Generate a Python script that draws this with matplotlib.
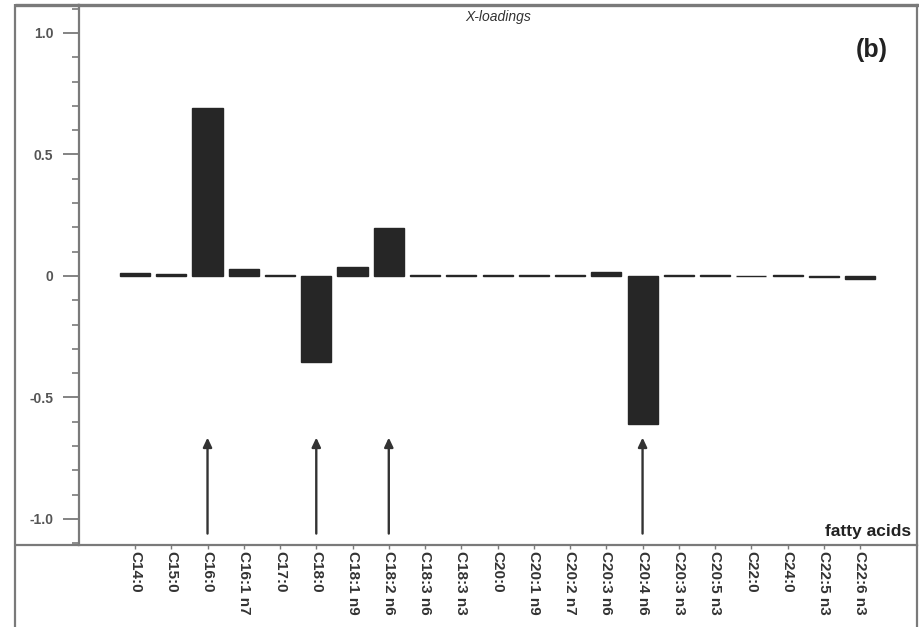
import matplotlib
matplotlib.use("Agg")
import matplotlib.pyplot as plt
from matplotlib.lines import Line2D
from matplotlib.ticker import MultipleLocator, FixedLocator
import numpy as np

plt.rcParams['font.family'] = ['Liberation Sans', 'DejaVu Sans']

# PLS X-loadings per fatty acid
fatty_acids = ["C14:0", "C15:0", "C16:0", "C16:1 n7", "C17:0", "C18:0",
               "C18:1 n9", "C18:2 n6", "C18:3 n6", "C18:3 n3", "C20:0",
               "C20:1 n9", "C20:2 n7", "C20:3 n6", "C20:4 n6", "C20:3 n3",
               "C20:5 n3", "C22:0", "C24:0", "C22:5 n3", "C22:6 n3"]
loadings = [0.012, 0.010, 0.690, 0.028, 0.003, -0.354,
            0.037, 0.198, 0.005, 0.003, 0.003,
            0.003, 0.005, 0.016, -0.610, 0.002,
            0.002, -0.002, 0.003, -0.004, -0.014]
highlighted = ["C16:0", "C18:0", "C18:2 n6", "C20:4 n6"]

y_major = [-1.0, -0.5, 0.0, 0.5, 1.0]
y_major_labels = ["-1.0", "-0.5", "0", "0.5", "1.0"]

W, H = 920, 627
fig = plt.figure(figsize=(W / 100, H / 100), dpi=100)
fig.patch.set_facecolor("white")

ax_l, ax_r, ax_t, ax_b = 79, 917, 5, 545
ax = fig.add_axes([ax_l / W, 1 - ax_b / H, (ax_r - ax_l) / W, (ax_b - ax_t) / H])

frame_col = "#7a7a7a"
bar_col = "#262626"

x = np.arange(len(fatty_acids))
ax.bar(x, loadings, width=0.83, color=bar_col, edgecolor=bar_col, linewidth=1.0, zorder=3)

# arrows marking the most influential fatty acids
for name in highlighted:
    i = fatty_acids.index(name)
    ax.annotate("", xy=(i, -0.665), xytext=(i, -1.06),
                arrowprops=dict(arrowstyle="-|>,head_length=0.55,head_width=0.26",
                                color="#333333", lw=1.7, shrinkA=0, shrinkB=0),
                zorder=4)

ax.set_xlim(-1.545, 21.57)
ax.set_ylim(-1.107, 1.115)

ax.yaxis.set_major_locator(FixedLocator(y_major))
ax.set_yticklabels(y_major_labels, fontsize=10, fontweight="bold", color="#555555")
ax.yaxis.set_minor_locator(MultipleLocator(0.1))
ax.tick_params(axis="y", which="major", direction="out", length=11.5, width=1.3,
               color=frame_col, pad=7)
ax.tick_params(axis="y", which="minor", direction="out", length=5, width=1.2,
               color=frame_col)

ax.set_xticks(x)
ax.set_xticklabels(fatty_acids, rotation=270, fontsize=11, fontweight="bold",
                   color="#333333", va="top", ha="center")
ax.tick_params(axis="x", which="major", direction="out", length=3, width=1.0,
               color=frame_col, pad=1)

for sp in ax.spines.values():
    sp.set_color(frame_col)
    sp.set_linewidth(1.6)
ax.spines["top"].set_linewidth(2.4)

ax.text(0.5, 0.99, "X-loadings", transform=ax.transAxes, ha="center", va="top",
        fontsize=10, fontstyle="italic", color="#333333")
ax.text(0.946, 0.917, "(b)", transform=ax.transAxes, ha="center", va="center",
        fontsize=18, fontweight="bold", color="#222222")
ax.text(0.993, 0.012, "fatty acids", transform=ax.transAxes, ha="right", va="bottom",
        fontsize=12.5, fontweight="bold", color="#222222")

# outer frame around the panel
def px_line(x0, y0, x1, y1, lw=1.6):
    fig.add_artist(Line2D([x0 / W, x1 / W], [1 - y0 / H, 1 - y1 / H],
                          transform=fig.transFigure, color=frame_col, lw=lw,
                          solid_capstyle="butt"))

px_line(15, ax_b, ax_l, ax_b)
px_line(15, ax_t, ax_l, ax_t, lw=2.4)
px_line(15, 4, 15, H)
px_line(ax_r, ax_b, ax_r, H)

fig.savefig("out.png", dpi=100, facecolor="white")
